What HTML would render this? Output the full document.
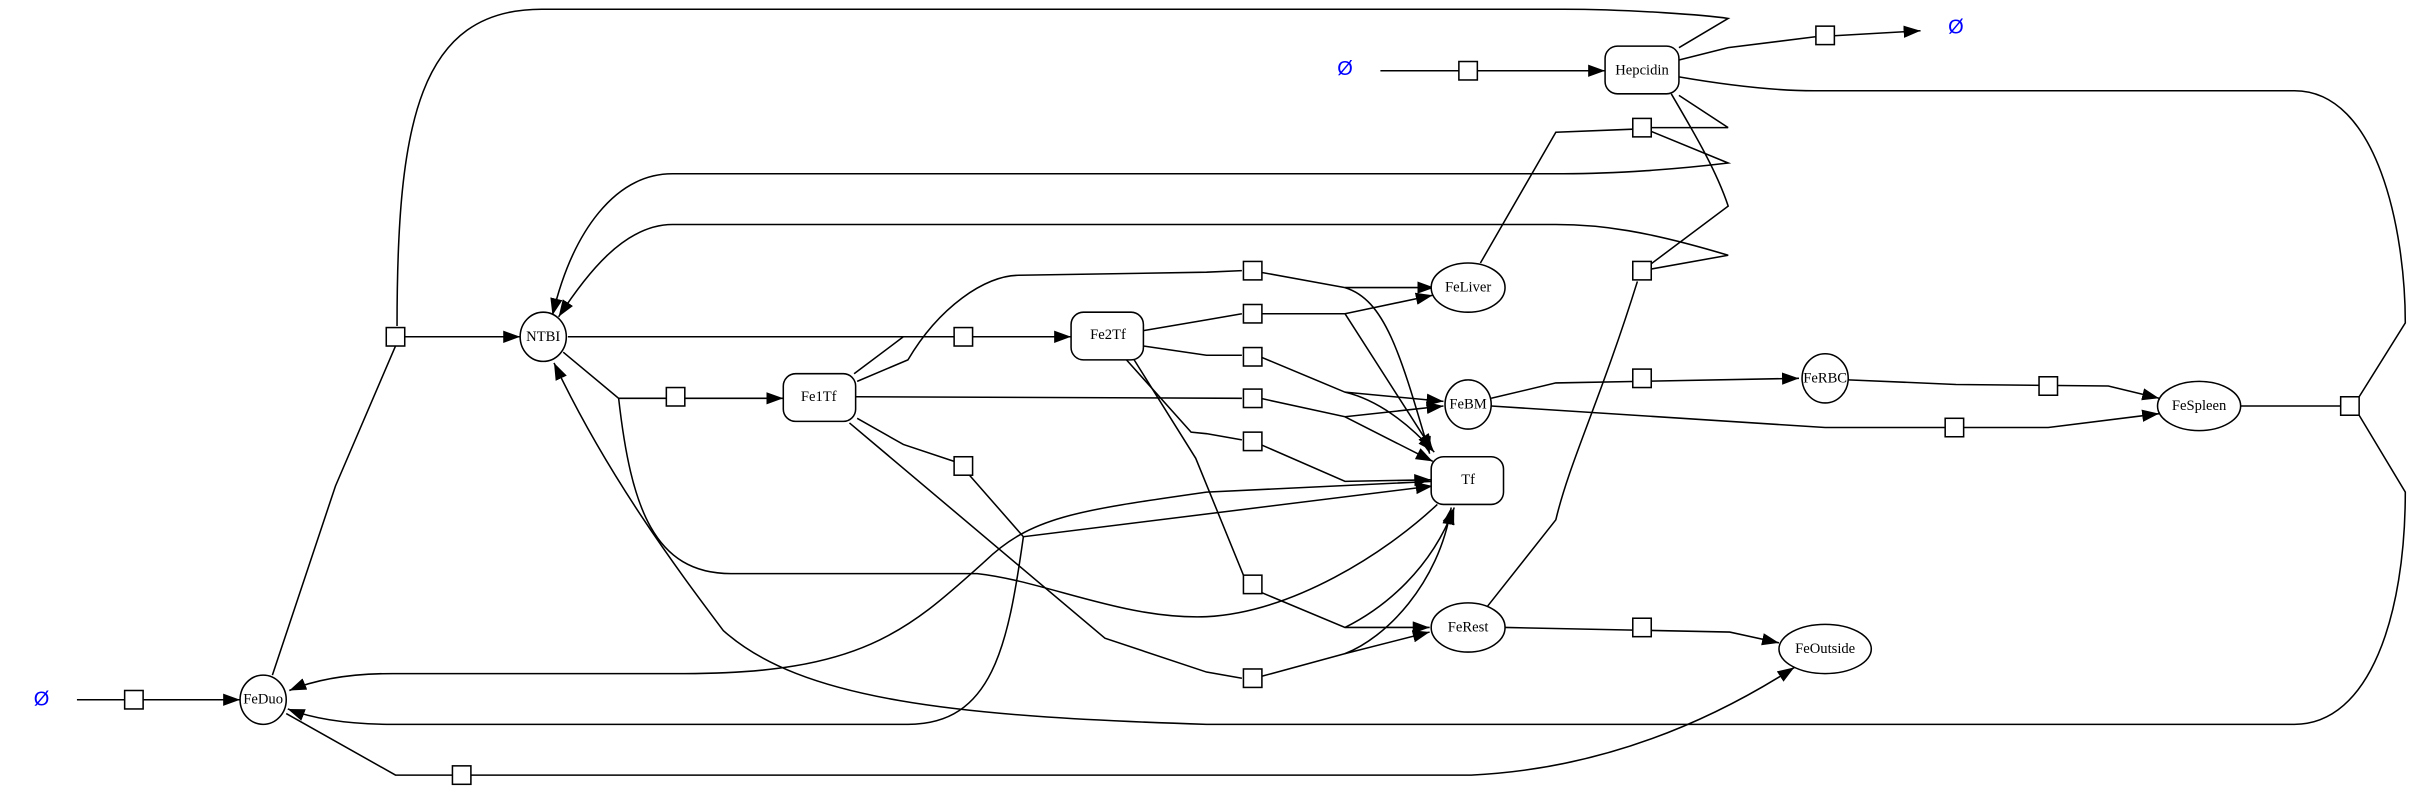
<!DOCTYPE html>
<html><head><meta charset="utf-8"><style>
html,body{margin:0;padding:0;background:#fff;}
svg{display:block}
text{font-family:"Liberation Serif",serif;font-size:9.5px;text-anchor:middle;dominant-baseline:central;fill:#000}
.e{fill:none;stroke:#000;stroke-width:1}
.n{fill:#fff;stroke:#000;stroke-width:1}
.phi{font-family:"Liberation Sans",sans-serif;font-size:13px;fill:#0000ff}
</style></head><body>
<svg width="2413" height="792" viewBox="0 0 1568 515" preserveAspectRatio="none" xmlns="http://www.w3.org/2000/svg">
<defs><marker id="a" markerUnits="userSpaceOnUse" markerWidth="12" markerHeight="10" refX="11" refY="4" orient="auto"><polygon points="0,0 11,4 0,8" fill="#000"/></marker></defs>
<g class="e">
<!-- source to FeDuo -->
<path d="M50,455 L156,455" marker-end="url(#a)"/>
<path d="M177,439 L218,316 L257,225"/>
<path d="M258,212 C258,80 272,6 352,6 L1016,6 C1060,6 1110,10 1123,12 L1091,31"/>
<path d="M263,219 L338,219" marker-end="url(#a)"/>
<path d="M369,219 L696,219" marker-end="url(#a)"/>
<path d="M366,229 L402,259 L509,259" marker-end="url(#a)"/>
<path d="M402,259 C410,330 425,373 475,373 L635,373 C680,378 730,403 784,401 C840,398 900,360 934,328"/>
<!-- NTBI top returns -->
<path d="M1067,83 L1123,83 M1091,62 L1123,83 M1067,83 L1123,106 C1090,110 1050,113 1016,113 L437,113 C400,113 372,150 359,205" marker-end="url(#a)"/>
<path d="M1086,61 C1100,85 1115,110 1123,134 L1067,176 L1123,166 C1070,150 1040,146 1011,146 L437,146 C405,146 380,180 363,206" marker-end="url(#a)"/>
<path d="M962,171 L1011,86 L1061,84"/>
<path d="M1064,183 C1040,260 1020,300 1011,338 L966,395"/>
<!-- Hepcidin right curve -->
<path d="M1091,50 C1120,55 1150,59 1179,59 L1491,59 C1545,59 1563,150 1563,210 L1533,258"/>
<path d="M1455,264 L1521,264"/>
<path d="M1533,270 L1563,320 C1563,400 1540,471 1491,471 L784,471 C620,466 520,455 470,410 C440,370 395,310 360,236" marker-end="url(#a)"/>
<path d="M1091,39 L1123,31 L1179,24 L1248,20" marker-end="url(#a)"/>
<path d="M897,46 L1043,46" marker-end="url(#a)"/>
<!-- Fe1Tf -->
<path d="M555,243 L587,219"/>
<path d="M557,248 L590,234 C610,200 640,179 662,179 L784,177 L807,176"/>
<path d="M819,177 L874,187 L932,187" marker-end="url(#a)"/>
<path d="M874,187 C900,195 910,230 929,295" marker-end="url(#a)"/>
<path d="M556,258 L807,259"/>
<path d="M819,259 L874,271 L938,264" marker-end="url(#a)"/>
<path d="M874,271 L931,300" marker-end="url(#a)"/>
<!-- Fe2Tf -->
<path d="M743,215 L784,208 L807,204"/>
<path d="M819,204 L874,204 L931,192" marker-end="url(#a)"/>
<path d="M874,204 L931,293" marker-end="url(#a)"/>
<path d="M743,225 L784,231 L807,231"/>
<path d="M819,232 L874,255 L938,261" marker-end="url(#a)"/>
<path d="M874,255 C895,260 915,275 932,294" marker-end="url(#a)"/>
<path d="M732,234 L774,281 L784,282 L807,286"/>
<path d="M819,289 L874,313 L930,312" marker-end="url(#a)"/>
<path d="M737,234 L777,298 L808,374"/>
<path d="M819,385 L874,408 L929,408" marker-end="url(#a)"/>
<path d="M874,408 C900,395 930,370 945,330" marker-end="url(#a)"/>
<path d="M557,272 L587,289 L620,300"/>
<path d="M630,309 L665,349 L931,316" marker-end="url(#a)"/>
<path d="M665,349 C655,420 645,471 590,471 L255,471 C220,471 200,466 187,461" marker-end="url(#a)"/>
<path d="M552,275 L718,415 L784,437 L807,441"/>
<path d="M819,440 L874,425 L929,411" marker-end="url(#a)"/>
<path d="M874,425 C900,415 935,380 943,330" marker-end="url(#a)"/>
<path d="M931,313 L784,320 C700,332 670,336 640,365 C590,410 560,438 445,438 L255,438 C220,438 200,444 188,449" marker-end="url(#a)"/>
<path d="M186,464 L257,504 L956,504 C1040,500 1110,470 1166,434" marker-end="url(#a)"/>
<path d="M978,408 L1124,411 L1156,418" marker-end="url(#a)"/>
<path d="M969,259 L1011,249 L1169,246" marker-end="url(#a)"/>
<path d="M969,264 L1186,278 L1331,278 L1403,269" marker-end="url(#a)"/>
<path d="M1201,247 L1271,250 L1370,251 L1403,259" marker-end="url(#a)"/>
</g>
<!-- boxes -->
<g class="n">
<rect x="81" y="449" width="12" height="12"/>
<rect x="251" y="213" width="12" height="12"/>
<rect x="433" y="252" width="12" height="12"/>
<rect x="620" y="213" width="12" height="12"/>
<rect x="620" y="297" width="12" height="12"/>
<rect x="294" y="498" width="12" height="12"/>
<rect x="808" y="170" width="12" height="12"/>
<rect x="808" y="198" width="12" height="12"/>
<rect x="808" y="226" width="12" height="12"/>
<rect x="808" y="253" width="12" height="12"/>
<rect x="808" y="281" width="12" height="12"/>
<rect x="808" y="374" width="12" height="12"/>
<rect x="808" y="435" width="12" height="12"/>
<rect x="948" y="40" width="12" height="12"/>
<rect x="1061" y="77" width="12" height="12"/>
<rect x="1061" y="170" width="12" height="12"/>
<rect x="1061" y="240" width="12" height="12"/>
<rect x="1061" y="402" width="12" height="12"/>
<rect x="1180" y="17" width="12" height="12"/>
<rect x="1264" y="272" width="12" height="12"/>
<rect x="1325" y="245" width="12" height="12"/>
<rect x="1521" y="258" width="12" height="12"/>
<!-- nodes -->
<ellipse cx="171" cy="455" rx="15" ry="16"/>
<ellipse cx="353" cy="219" rx="15" ry="16"/>
<rect x="509" y="243" width="47" height="31" rx="8"/>
<rect x="696" y="203" width="47" height="31" rx="8"/>
<rect x="1043" y="30" width="48" height="31" rx="8"/>
<ellipse cx="954" cy="187" rx="24" ry="16"/>
<ellipse cx="954" cy="263" rx="15" ry="16"/>
<rect x="930" y="297" width="47" height="31" rx="8"/>
<ellipse cx="954" cy="408" rx="24" ry="16"/>
<ellipse cx="1186" cy="422" rx="30" ry="16"/>
<ellipse cx="1186" cy="246" rx="15" ry="16"/>
<ellipse cx="1429" cy="264" rx="27" ry="16"/>
</g>
<text x="171" y="455">FeDuo</text>
<text x="353" y="219">NTBI</text>
<text x="532" y="258">Fe1Tf</text>
<text x="720" y="218">Fe2Tf</text>
<text x="1067" y="46">Hepcidin</text>
<text x="954" y="187">FeLiver</text>
<text x="954" y="263">FeBM</text>
<text x="954" y="312">Tf</text>
<text x="954" y="408">FeRest</text>
<text x="1186" y="422">FeOutside</text>
<text x="1186" y="246">FeRBC</text>
<text x="1429" y="264">FeSpleen</text>
<text class="phi" x="27" y="455">Ø</text>
<text class="phi" x="874" y="45">Ø</text>
<text class="phi" x="1271" y="18">Ø</text>
</svg>
</body></html>
